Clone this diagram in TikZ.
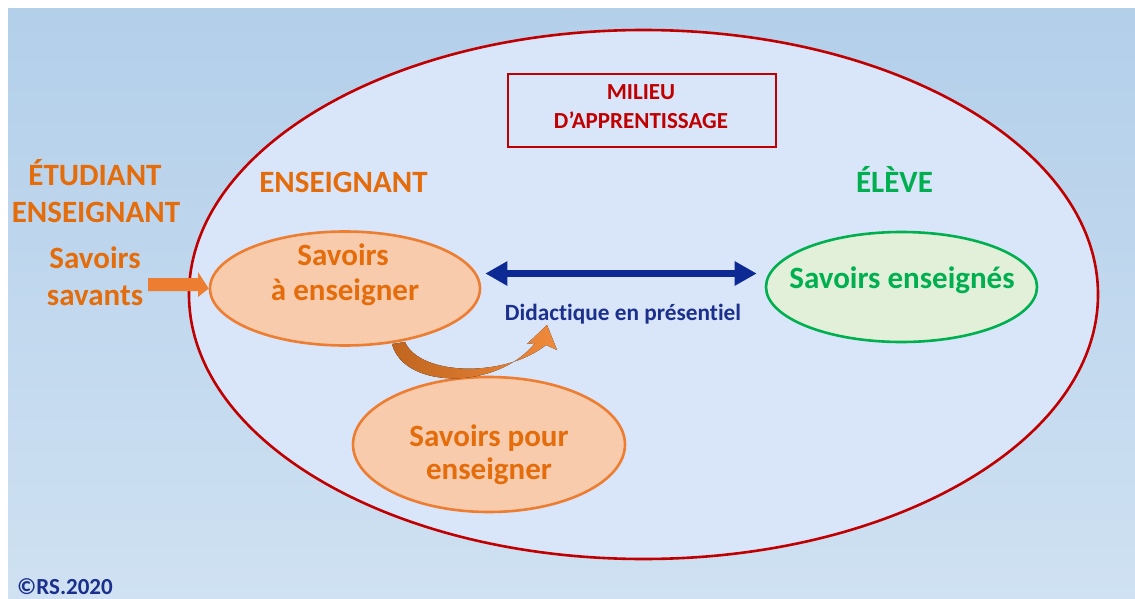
\documentclass[tikz,border=0pt]{standalone}
\usepackage{fontspec}
\setmainfont{Carlito}[Ligatures=NoCommon]
\usetikzlibrary{shapes.geometric,arrows.meta}
\definecolor{bgtop}{HTML}{B3CFEA}
\definecolor{bgbot}{HTML}{CFE1F2}
\definecolor{milieufill}{HTML}{D9E5F9}
\definecolor{darkred}{HTML}{C00000}
\definecolor{orangetxt}{HTML}{E46C0A}
\definecolor{orangeline}{HTML}{ED7D31}
\definecolor{orangefill}{HTML}{F8CBAD}
\definecolor{greenline}{HTML}{00B050}
\definecolor{greenfill}{HTML}{E2F0D9}
\definecolor{navy}{HTML}{0D2A94}
\definecolor{navytxt}{HTML}{1B2F8C}
\definecolor{curvedark}{HTML}{C0651F}
\definecolor{curvelight}{HTML}{F08A3C}
\tikzset{
  big/.style={font=\fontsize{31}{36}\selectfont\bfseries, anchor=base, inner sep=0},
  orangelbl/.style={big, text=orangetxt},
  greenlbl/.style={big, text=greenline},
  redlbl/.style={font=\fontsize{23}{26}\selectfont\bfseries, anchor=base, inner sep=0, text=darkred},
  navylbl/.style={font=\fontsize{23.3}{26}\selectfont\bfseries, anchor=base, inner sep=0, text=navytxt},
  orangeell/.style={ellipse, draw=orangeline, fill=orangefill, line width=2.6pt, inner sep=0},
  greenell/.style={ellipse, draw=greenline, fill=greenfill, line width=2.6pt, inner sep=0},
  bluearrow/.style={draw=navy, line width=6.5pt, {Triangle[length=22pt,width=23pt]}-{Triangle[length=22pt,width=23pt]}},
}
\begin{document}
\begin{tikzpicture}[x=1pt,y=-1pt]
\useasboundingbox (0,0) rectangle (1135,599);
\fill[white] (0,0) rectangle (1135,599);
\shade[top color=bgtop, bottom color=bgbot] (8,9) rectangle (1135,599);
% milieu ellipse
\node[ellipse, draw=darkred, fill=milieufill, line width=2.6pt, minimum width=909pt, minimum height=529pt, inner sep=0] (milieu) at (643.5,294.5) {};
% milieu box
\node[draw=darkred, line width=2.2pt, minimum width=268pt, minimum height=73pt, inner sep=0] (box) at (642,110.5) {};
\node[redlbl] (m1) at (641,100) {MILIEU};
\node[redlbl] (m2) at (641,128.5) {D’APPRENTISSAGE};
% ellipses
\node[orangeell, minimum width=270pt, minimum height=114pt] (sae) at (345,288.5) {};
\node[greenell, minimum width=271pt, minimum height=110pt] (se) at (901.5,287) {};
\node[orangeell, minimum width=272pt, minimum height=135pt] (spe) at (489,444.5) {};
% left labels
\node[orangelbl] (et1) at (95,185) {ÉTUDIANT};
\node[orangelbl] (et2) at (96,222) {ENSEIGNANT};
\node[orangelbl] (sv1) at (95,268) {Savoirs};
\node[orangelbl] (sv2) at (95,305) {savants};
% titles
\node[orangelbl] (ens) at (343.5,193) {ENSEIGNANT};
\node[greenlbl] (elv) at (894.5,193) {ÉLÈVE};
% ellipse texts
\node[orangelbl] (t1) at (343,265) {Savoirs};
\node[orangelbl] (t2) at (345,300) {à enseigner};
\node[greenlbl] (t3) at (902,288) {Savoirs enseignés};
\node[orangelbl] (t4) at (489,446) {Savoirs pour};
\node[orangelbl] (t5) at (489,479) {enseigner};
% didactique
\node[navylbl] (did) at (623,320) {Didactique en présentiel};
% blue double arrow
\draw[bluearrow] ([xshift=4pt]sae.east |- 0,273.5) coordinate (a1) -- ([xshift=-8pt]se.west |- 0,273.5) coordinate (a2);
% left orange arrow
\coordinate (la) at (148,284.5);
\fill[orangeline] (la) ++(0,-6.5) -- (198,278) -- (198,272) -- (sae.west) -- (198,297) -- (198,291) -- (148,291) -- cycle;
% curved arrow
\coordinate (cs) at (392,344);
\fill[left color=curvedark, right color=curvelight]
  (cs) .. controls (404,390) and (498,390) .. (535,343)
  -- (527,344) -- (547,325) -- (557,350) -- (546,345)
  .. controls (505,378) and (420,376) .. (405,342) -- cycle;
% copyright
\node[font=\fontsize{23}{26}\selectfont\bfseries, text=navytxt, anchor=base west, inner sep=0] (cr) at (17,594) {©RS.2020};
\end{tikzpicture}
\end{document}
